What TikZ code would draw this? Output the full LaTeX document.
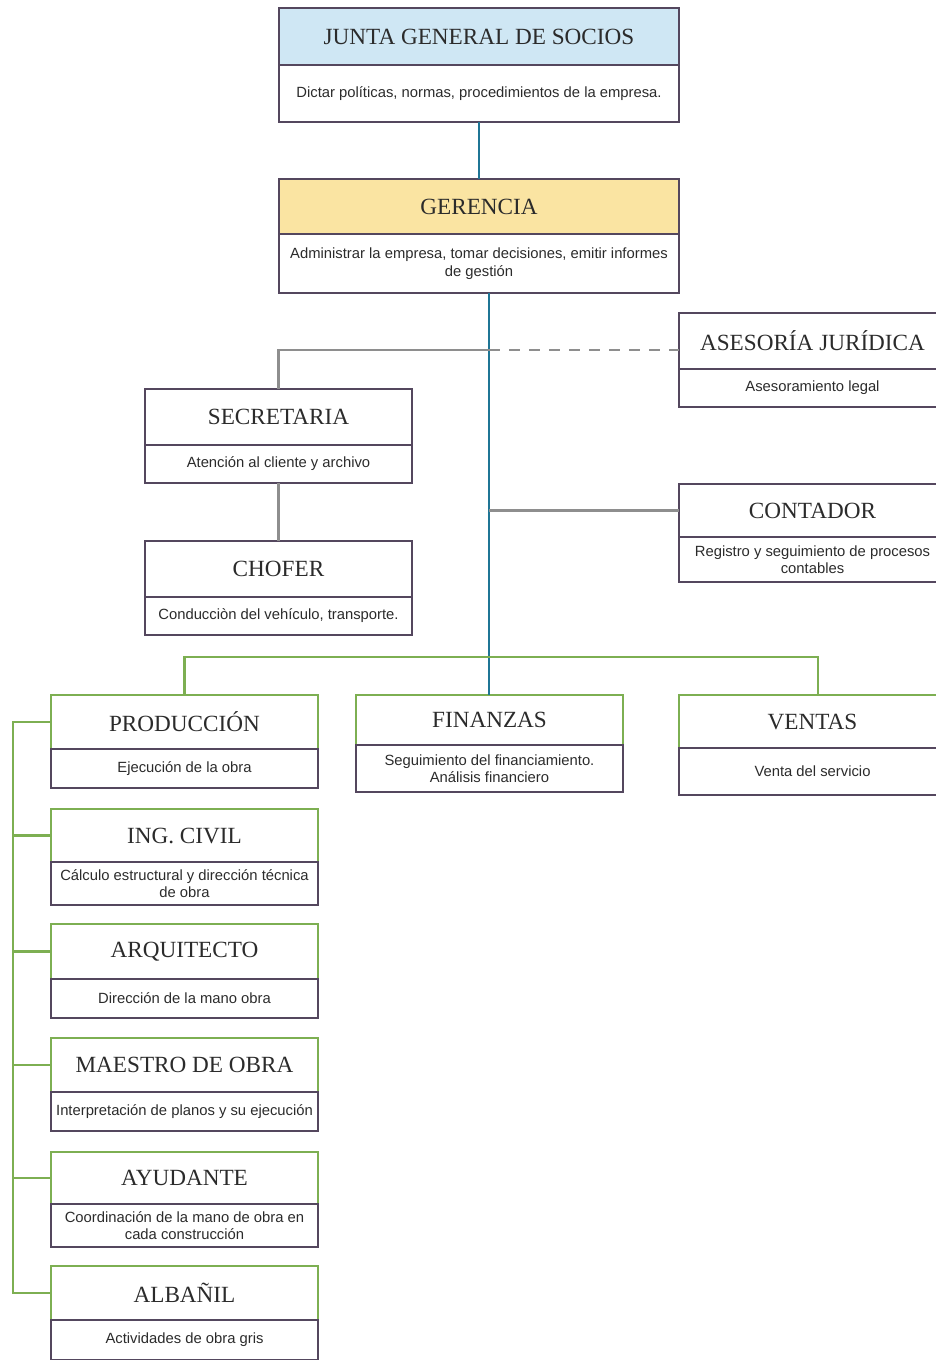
\documentclass[tikz,border=0pt]{standalone}
\usepackage{fontspec}
\setmainfont{Liberation Serif}
\newfontfamily\descfont{Liberation Sans}
\usepackage{xcolor}
\usetikzlibrary{positioning}

\definecolor{boxline}{HTML}{54475E}
\definecolor{greenline}{HTML}{7DAF52}
\definecolor{tealline}{HTML}{1F7595}
\definecolor{grayline}{HTML}{8E8E8E}
\definecolor{juntafill}{HTML}{CFE7F4}
\definecolor{gerfill}{HTML}{FAE4A2}
\definecolor{inktext}{HTML}{2B2B2B}

\tikzset{
  head/.style={draw=boxline, line width=1.6pt, outer sep=0pt, inner sep=2pt,
    text=inktext, font=\fontsize{23.2}{27}\selectfont},
  desc/.style={draw=boxline, line width=1.6pt, outer sep=0pt, inner sep=2pt,
    text=inktext, align=center, font=\descfont\fontsize{14.8}{17.5}\selectfont},
  wide/.style={minimum width=400pt},
  narrow/.style={minimum width=267pt},
  greenhead/.style={head, draw=greenline},
  teal link/.style={tealline, line width=2.2pt},
  green link/.style={greenline, line width=2.2pt},
  gray link/.style={grayline, line width=2.2pt}
}

\begin{document}
\begin{tikzpicture}[x=1pt, y=-1pt]
  \useasboundingbox (0,0) rectangle (936,1360);

  % Top level
  \node[head, wide, fill=juntafill, minimum height=57] (junta) at (479,36.5) {JUNTA GENERAL DE SOCIOS};
  \node[desc, wide, minimum height=57, below=0pt of junta] (juntad) {Dictar políticas, normas, procedimientos de la empresa.};

  \node[head, wide, fill=gerfill, minimum height=55] (ger) at (479,206.5) {GERENCIA};
  \node[desc, wide, minimum height=59, below=0pt of ger] (gerd) {Administrar la empresa, tomar decisiones, emitir informes\\de gestión};

  % Staff boxes
  \node[head, narrow, minimum height=56] (ases) at (812.5,341) {ASESORÍA JURÍDICA};
  \node[desc, narrow, minimum height=38, below=0pt of ases] (asesd) {Asesoramiento legal};

  \node[head, narrow, minimum height=56] (secr) at (278.5,417) {SECRETARIA};
  \node[desc, narrow, minimum height=38, below=0pt of secr] (secrd) {Atención al cliente y archivo};

  \node[head, narrow, minimum height=56] (chof) at (278.5,569) {CHOFER};
  \node[desc, narrow, minimum height=38, below=0pt of chof] (chofd) {Conducciòn del vehículo, transporte.};

  \node[head, narrow, minimum height=53] (cont) at (812.5,510.5) {CONTADOR};
  \node[desc, narrow, minimum height=45, below=0pt of cont] (contd) {Registro y seguimiento de procesos\\contables};

  % Departments
  \node[greenhead, narrow, minimum height=54] (prod) at (184.5,722) {PRODUCCIÓN};
  \node[desc, narrow, minimum height=39, below=0pt of prod] (prodd) {Ejecución de la obra};

  \node[greenhead, narrow, minimum height=50] (fin) at (489.5,720) {FINANZAS};
  \node[desc, narrow, minimum height=47, below=0pt of fin] (find) {Seguimiento del financiamiento.\\Análisis financiero};

  \node[greenhead, narrow, minimum height=53] (vent) at (812.5,721.5) {VENTAS};
  \node[desc, narrow, minimum height=47, below=0pt of vent] (ventd) {Venta del servicio};

  % Production staff
  \node[greenhead, narrow, minimum height=53] (ing) at (184.5,835.5) {ING. CIVIL};
  \node[desc, narrow, minimum height=43, below=0pt of ing] (ingd) {Cálculo estructural y dirección técnica\\de obra};

  \node[greenhead, narrow, minimum height=55] (arq) at (184.5,951.5) {ARQUITECTO};
  \node[desc, narrow, minimum height=39, below=0pt of arq] (arqd) {Dirección de la mano obra};

  \node[greenhead, narrow, minimum height=54] (maes) at (184.5,1065) {MAESTRO DE OBRA};
  \node[desc, narrow, minimum height=39, below=0pt of maes] (maesd) {Interpretación de planos y su ejecución};

  \node[greenhead, narrow, minimum height=52] (ayud) at (184.5,1178) {AYUDANTE};
  \node[desc, narrow, minimum height=43, below=0pt of ayud] (ayudd) {Coordinación de la mano de obra en\\cada construcción};

  \node[greenhead, narrow, minimum height=54] (alba) at (184.5,1293) {ALBAÑIL};
  \node[desc, narrow, minimum height=40, below=0pt of alba] (albad) {Actividades de obra gris};

  % Spine points
  \coordinate (spine) at (489,657);
  \coordinate (jur) at (489,350);
  \coordinate (rail) at (13,722);
  \coordinate (ventdrop) at (818,657);

  % Teal main line
  \draw[teal link] (juntad.south) -- (ger.north);
  \draw[teal link] (gerd.south -| spine) -- (fin.north -| spine);

  % Gray staff lines
  \draw[gray link] (secr.north) |- (jur);
  \draw[gray link, dash pattern=on 11pt off 9pt] (jur) -- (jur -| ases.west);
  \draw[gray link] (secrd.south) -- (chof.north);
  \draw[gray link] (cont.west -| spine) -- (cont.west);

  % Green department lines
  \draw[green link] (prod.north) |- (ventdrop) -- (vent.north -| ventdrop);
  \draw[green link] (prod.west) -- (rail) -- (alba.west -| rail) -- (alba.west);
  \foreach \n in {ing,arq,maes,ayud} {
    \draw[green link] (\n.west -| rail) -- (\n.west);
  }
\end{tikzpicture}
\end{document}
